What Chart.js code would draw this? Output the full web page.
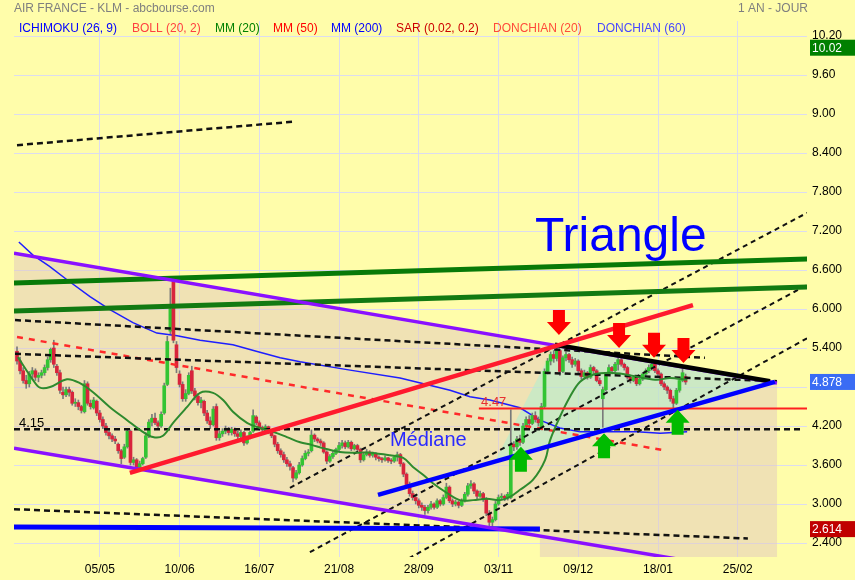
<!DOCTYPE html>
<html>
<head>
<meta charset="utf-8">
<script src="https://cdn.jsdelivr.net/npm/chart.js@4.4.1/dist/chart.umd.min.js"></script>
<style>
  html, body { margin: 0; padding: 0; background: #fffdaa; }
  #wrap { width: 855px; height: 580px; }
</style>
</head>
<body>
<div id="wrap"><canvas id="chart" width="855" height="580"></canvas></div>
<script>
// ---- daily candles : [open, high, low, close], one per session ----
const CANDLES = [
  [5.35,5.42,5.15,5.20],[5.20,5.26,5.00,5.05],[5.05,5.10,4.86,4.90],[4.90,4.98,4.78,4.85],[4.85,5.04,4.80,5.00],
  [5.00,5.10,4.92,5.05],[5.05,5.08,4.90,4.95],[4.95,5.02,4.88,4.98],[4.98,5.06,4.94,5.02],[5.02,5.14,4.98,5.10],
  [5.10,5.26,5.06,5.22],[5.22,5.40,5.18,5.38],[5.40,5.52,5.10,5.15],[5.12,5.15,4.98,5.02],[5.02,5.06,4.70,4.75],
  [4.72,4.80,4.62,4.68],[4.68,4.80,4.65,4.76],[4.76,4.80,4.66,4.72],[4.72,4.74,4.52,4.55],[4.55,4.62,4.50,4.56],
  [4.56,4.60,4.45,4.50],[4.50,4.52,4.40,4.44],[4.42,4.90,4.40,4.85],[4.85,4.88,4.52,4.55],[4.55,4.60,4.46,4.50],
  [4.48,4.64,4.46,4.60],[4.58,4.60,4.36,4.40],[4.40,4.44,4.26,4.30],[4.30,4.34,4.16,4.20],[4.20,4.24,4.06,4.10],
  [4.10,4.14,4.00,4.05],[4.05,4.08,3.96,4.00],[4.00,4.04,3.93,3.97],[3.92,3.94,3.78,3.82],[3.82,3.84,3.62,3.70],
  [3.72,3.92,3.70,3.88],[3.88,4.16,3.86,4.12],[4.12,4.14,3.60,3.64],[3.64,3.72,3.60,3.68],[3.68,3.70,3.50,3.56],
  [3.56,3.66,3.53,3.62],[3.62,3.72,3.60,3.70],[3.72,4.10,3.70,4.05],[4.05,4.30,4.02,4.26],[4.26,4.38,4.20,4.32],
  [4.32,4.40,4.22,4.25],[4.25,4.28,4.16,4.20],[4.20,4.42,4.18,4.38],[4.40,4.86,4.38,4.82],[4.84,5.58,4.82,5.50],
  [5.66,6.32,5.62,6.00],[6.42,6.46,5.48,5.52],[5.45,5.50,5.02,5.10],[5.00,5.05,4.80,4.84],[4.84,4.88,4.58,4.62],
  [4.62,4.76,4.58,4.70],[4.70,5.02,4.68,4.98],[5.05,5.12,4.70,4.74],[4.74,4.78,4.60,4.66],[4.66,4.70,4.52,4.56],
  [4.56,4.64,4.48,4.60],[4.58,4.60,4.36,4.40],[4.40,4.44,4.24,4.28],[4.28,4.34,4.16,4.22],[4.22,4.50,4.20,4.46],
  [4.50,4.54,3.98,4.02],[4.02,4.12,3.98,4.08],[4.08,4.16,4.04,4.12],[4.12,4.20,4.08,4.16],[4.16,4.18,4.06,4.10],
  [4.10,4.18,4.06,4.15],[4.15,4.17,4.04,4.08],[4.08,4.12,4.00,4.04],[4.04,4.14,4.02,4.10],[4.10,4.12,3.90,3.94],
  [3.94,4.05,3.92,4.02],[4.02,4.12,4.00,4.10],[4.12,4.45,4.10,4.36],[4.34,4.36,4.22,4.25],[4.25,4.28,4.14,4.18],
  [4.18,4.20,4.10,4.14],[4.14,4.22,4.12,4.19],[4.19,4.20,4.08,4.12],[4.12,4.14,4.02,4.05],[4.05,4.06,3.88,3.92],
  [3.92,3.95,3.78,3.82],[3.82,3.85,3.72,3.76],[3.76,3.80,3.64,3.68],[3.68,3.72,3.58,3.62],[3.62,3.66,3.52,3.58],
  [3.56,3.58,3.34,3.40],[3.40,3.52,3.38,3.48],[3.48,3.64,3.46,3.60],[3.60,3.74,3.58,3.70],[3.70,3.82,3.68,3.78],
  [3.78,3.84,3.74,3.80],[3.82,4.14,3.80,4.06],[4.06,4.08,3.96,4.00],[4.00,4.02,3.94,3.97],[3.97,4.00,3.90,3.94],
  [3.94,3.96,3.78,3.80],[3.80,3.82,3.62,3.66],[3.66,3.76,3.64,3.73],[3.73,3.82,3.70,3.78],[3.78,3.86,3.76,3.84],
  [3.84,3.95,3.82,3.90],[3.90,3.98,3.86,3.94],[3.94,3.97,3.85,3.88],[3.88,3.98,3.86,3.95],[3.95,3.97,3.82,3.85],
  [3.85,3.92,3.83,3.90],[3.90,3.92,3.80,3.84],[3.84,3.86,3.64,3.68],[3.68,3.78,3.66,3.76],[3.76,3.84,3.74,3.80],
  [3.80,3.82,3.72,3.75],[3.75,3.80,3.72,3.78],[3.78,3.79,3.68,3.72],[3.72,3.74,3.66,3.70],[3.70,3.72,3.64,3.68],
  [3.68,3.74,3.66,3.71],[3.71,3.72,3.64,3.67],[3.67,3.70,3.62,3.66],[3.66,3.74,3.64,3.72],[3.72,3.80,3.66,3.76],
  [3.76,3.78,3.58,3.62],[3.62,3.64,3.42,3.46],[3.46,3.48,3.26,3.30],[3.30,3.34,3.12,3.16],[3.16,3.20,3.06,3.10],
  [3.10,3.14,3.00,3.05],[3.05,3.08,2.94,2.98],[2.98,3.02,2.90,2.95],[2.95,2.98,2.84,2.90],[2.90,2.98,2.86,2.95],
  [2.95,3.04,2.92,3.00],[3.00,3.02,2.92,2.95],[2.95,3.08,2.93,3.05],[3.05,3.07,2.97,3.00],[3.00,3.14,2.98,3.10],
  [3.10,3.32,3.08,3.26],[3.26,3.28,3.02,3.05],[3.05,3.08,2.96,3.00],[3.00,3.06,2.97,3.03],[3.03,3.05,2.94,2.98],
  [2.98,3.08,2.96,3.05],[3.05,3.18,3.03,3.15],[3.15,3.32,3.12,3.28],[3.28,3.36,3.24,3.31],[3.31,3.33,3.16,3.20],
  [3.20,3.22,3.08,3.12],[3.12,3.20,3.10,3.16],[3.16,3.18,3.04,3.08],[3.08,3.10,2.82,2.86],[2.86,2.90,2.61,2.72],
  [2.72,2.80,2.66,2.76],[2.76,3.04,2.74,3.00],[3.00,3.14,2.98,3.10],[3.10,3.16,3.06,3.12],[3.12,3.14,3.05,3.09],
  [3.09,3.18,3.06,3.15],[3.10,4.45,3.08,3.92],[3.92,3.96,3.82,3.88],[3.88,4.04,3.84,4.00],[4.00,4.06,3.90,3.95],
  [3.95,4.24,3.93,4.20],[4.20,4.34,4.16,4.30],[4.30,4.36,4.20,4.24],[4.24,4.40,4.22,4.36],[4.36,4.42,4.26,4.30],
  [4.30,4.34,4.20,4.25],[4.18,4.55,4.14,4.50],[4.50,5.08,4.48,5.04],[5.04,5.24,5.00,5.20],[5.20,5.34,5.14,5.30],
  [5.30,5.36,5.18,5.24],[5.24,5.44,5.20,5.36],[5.36,5.38,4.98,5.04],[5.04,5.28,5.02,5.25],[5.25,5.34,5.20,5.30],
  [5.30,5.32,5.18,5.22],[5.22,5.26,5.10,5.15],[5.15,5.24,5.12,5.20],[5.20,5.22,5.02,5.05],[5.05,5.08,4.92,4.96],
  [4.96,5.06,4.94,5.02],[5.02,5.04,4.92,4.95],[4.95,5.14,4.93,5.10],[5.10,5.12,5.00,5.05],[5.05,5.07,4.88,4.90],
  [4.90,4.94,4.82,4.85],[4.62,4.80,4.18,4.76],[4.76,5.02,4.74,5.00],[5.00,5.14,4.98,5.10],[5.10,5.12,5.00,5.05],
  [5.05,5.18,5.03,5.15],[5.15,5.26,5.06,5.22],[5.22,5.24,5.12,5.15],[5.15,5.17,5.06,5.10],[5.10,5.12,4.92,4.95],
  [4.95,4.98,4.86,4.90],[4.90,4.98,4.88,4.95],[4.95,4.97,4.82,4.85],[4.85,4.95,4.83,4.92],[4.92,5.02,4.90,5.00],
  [5.00,5.08,4.98,5.05],[5.05,5.14,5.02,5.10],[5.10,5.20,5.06,5.15],[5.15,5.16,5.02,5.05],[5.05,5.08,4.96,5.00],
  [5.00,5.02,4.82,4.85],[4.85,4.88,4.76,4.80],[4.80,4.82,4.70,4.75],[4.75,4.77,4.58,4.62],[4.62,4.66,4.48,4.55],
  [4.55,4.78,4.53,4.75],[4.75,4.94,4.72,4.90],[4.90,5.12,4.88,5.02],[4.96,5.00,4.84,4.878]
];

// ---- axes ----
const X_MIN = -0.98, X_MAX = 257.58;
const X_TICKS = [27, 53, 79, 105, 131, 157, 183, 209, 235];
const X_LABELS = ["05/05", "10/06", "16/07", "21/08", "28/09", "03/11", "09/12", "18/01", "25/02"];
const Y_MIN = 2.185, Y_MAX = 10.431;
const Y_TICKS = [2.4, 3.0, 3.6, 4.2, 4.8, 5.4, 6.0, 6.6, 7.2, 7.8, 8.4, 9.0, 9.6, 10.2];
const Y_LABELS = ["2.400", "3.000", "3.600", "4.200", "4.800", "5.400", "6.000", "6.600", "7.200", "7.800", "8.400", "9.00", "9.60", "10.20"];

const MM20 = [[0.3,5.26],[5.2,4.91],[7.5,4.79],[10.8,4.80],[16.3,4.92],[20.5,4.86],[24.8,4.72],[30.3,4.49],
  [35.9,4.29],[40.1,4.14],[44.3,4.03],[47.6,4.05],[50.9,4.25],[55.4,4.49],[59.7,4.71],[63.9,4.71],[67.2,4.60],
  [70.4,4.42],[75.0,4.25],[79.2,4.17],[83.5,4.11],[88.0,4.03],[92.3,3.95],[96.0,3.91],[99.8,3.86],[105.3,3.80],
  [110.9,3.79],[115.1,3.79],[121.6,3.75],[125.9,3.71],[129.1,3.57],[132.4,3.45],[135.6,3.32],[140.2,3.17],
  [144.4,3.06],[148.7,3.06],[153.2,3.08],[157.5,3.06],[160.7,3.11],[164.0,3.22],[168.2,3.37],[172.2,3.68],
  [173.8,3.98],[177.0,4.34],[180.3,4.65],[183.6,4.88],[187.8,4.99],[193.3,5.02],[198.9,4.99],[204.1,4.94],
  [208.7,4.91],[212.9,4.94],[218.5,4.91]];
const MM200 = [[0.6,7.03],[5.2,6.83],[10.5,6.66],[16.3,6.45],[23.8,6.19],[30.3,5.99],[37.8,5.79],[45.6,5.63],
  [52.2,5.59],[59.7,5.52],[70.4,5.45],[78.0,5.35],[85.8,5.25],[92.3,5.19],[108.6,5.06],[124.9,4.94],
  [141.2,4.75],[147.7,4.65],[154.2,4.60],[164.0,4.48],[170.5,4.29],[177.0,4.17],[183.6,4.11],[191.1,4.11],
  [202.2,4.11],[209.7,4.09],[218.5,4.11]];

// ---- hand-drawn lines : [session, price] ----
const DASH_TOP = [[0,8.52],[89.7,8.88]];
const DASH_HIGH = [[-0.65,5.83],[224.3,5.25]];
const DASH_MID = [[-0.65,5.31],[247.8,4.89]];
const DASH_415 = [[-0.98,4.15],[256.3,4.15]];
const DASH_LOW = [[-0.98,2.92],[238.3,2.47]];
const DIAG_1 = [[89,3.25],[257.6,7.48]];
const DIAG_2 = [[95.5,2.26],[257.6,6.37]];
const DIAG_3 = [[122.6,2.03],[257.6,5.55]];
const RED_DASH = [[0,5.57],[211.9,3.82]];
const PURPLE_TOP = [[-0.98,6.86],[247.8,4.86]];
const PURPLE_LOW = [[-0.98,3.86],[257.6,1.82]];
const BLUE_FLOOR = [[-0.98,2.646],[170.5,2.615]];
const BLUE_SUPPORT = [[117.7,3.14],[247.1,4.88]];
const RED_RISE = [[36.8,3.48],[220.4,6.06]];
const GREEN_UP = [[-0.98,6.40],[257.6,6.77]];
const GREEN_LOW = [[-0.98,5.97],[257.6,6.34]];
const BLACK_TOP = [[175.4,5.45],[245.5,4.89]];
const RED_447 = [[150.6,4.47],[257.6,4.47]];
const TAN_ZONE = [[-0.98,6.86],[247.8,4.86],[247.8,2.0],[170.5,2.0],[170.5,2.50],[-0.98,3.86],[-0.98,6.86]];
const TRI_ZONE = [[155.9,3.66],[175.4,5.45],[247.1,4.88],[155.9,3.66]];

// ---- marks and notes ----
const DOWN_ARROWS = [[176.7,5.60],[196.3,5.40],[207.7,5.25],[217.3,5.17]];
const UP_ARROWS = [[164.3,3.88],[191.4,4.09],[215.4,4.45]];
const NOTES = [
  { text: "Triangle", at: [168.9, 6.89], size: 48, color: "#0000ff" },
  { text: "Médiane", at: [121.6, 3.89], size: 20, color: "#2a2aff" },
  { text: "4.15", at: [0.65, 4.18], size: 13, color: "#000000" },
  { text: "4.47", at: [151.3, 4.51], size: 13, color: "#e83030" }
];
const HIGH_VALUE = 10.02, LAST_VALUE = 4.878, LOW_VALUE = 2.614;

const LEGEND = [
  ["ICHIMOKU (26, 9)", 19, "#0000ff"], ["BOLL (20, 2)", 132, "#ff4040"], ["MM (20)", 215, "#008000"],
  ["MM (50)", 273, "#ff0000"], ["MM (200)", 331, "#0000ff"], ["SAR (0.02, 0.2)", 396, "#cc0000"],
  ["DONCHIAN (20)", 493, "#ff4a3a"], ["DONCHIAN (60)", 597, "#4848ff"]
];

const FONT = 'Arial, "Liberation Sans", sans-serif';
const GRID = "#dcdcef";
const UP_COL = "#33c433", DOWN_COL = "#d8243c";

function pts(arr) { return arr.map(([x, y]) => ({ x, y })); }

function line(arr, color, width, dash, order) {
  return {
    type: "line", data: pts(arr), borderColor: color, borderWidth: width,
    borderDash: dash || [], pointRadius: 0, fill: false, tension: 0, order: order
  };
}

function zone(arr, color, order) {
  return {
    type: "line", data: pts(arr), borderWidth: 0, borderColor: "rgba(0,0,0,0)",
    backgroundColor: color, fill: "shape", pointRadius: 0, tension: 0, order: order
  };
}

function drawArrow(ctx, cx, tip, dir, color) {
  const hy = tip - dir * 13, ty = tip - dir * 25;
  ctx.beginPath();
  ctx.moveTo(cx, tip);
  ctx.lineTo(cx - 12, hy);
  ctx.lineTo(cx - 6, hy);
  ctx.lineTo(cx - 6, ty);
  ctx.lineTo(cx + 6, ty);
  ctx.lineTo(cx + 6, hy);
  ctx.lineTo(cx + 12, hy);
  ctx.closePath();
  ctx.fillStyle = color;
  ctx.fill();
}

function valueBox(ctx, y, v, text, bg) {
  const py = y.getPixelForValue(v);
  ctx.fillStyle = bg;
  ctx.fillRect(810, py - 8, 45, 16);
  ctx.fillStyle = "#ffffff";
  ctx.font = "12px " + FONT;
  ctx.textAlign = "left";
  ctx.textBaseline = "middle";
  ctx.fillText(text, 812, py + 1);
}

const overlay = {
  id: "overlay",
  afterDatasetsDraw(chart) {
    const { ctx, scales: { x, y } } = chart;
    ctx.save();
    DOWN_ARROWS.forEach(([i, p]) => drawArrow(ctx, x.getPixelForValue(i), y.getPixelForValue(p), 1, "#ff0000"));
    UP_ARROWS.forEach(([i, p]) => drawArrow(ctx, x.getPixelForValue(i), y.getPixelForValue(p), -1, "#00bb00"));
    NOTES.forEach(n => {
      ctx.font = n.size + "px " + FONT;
      ctx.fillStyle = n.color;
      ctx.textAlign = "left";
      ctx.textBaseline = "alphabetic";
      ctx.fillText(n.text, x.getPixelForValue(n.at[0]), y.getPixelForValue(n.at[1]));
    });
    ctx.restore();
  },
  afterDraw(chart) {
    const { ctx, scales: { y } } = chart;
    ctx.save();
    ctx.textBaseline = "middle";
    ctx.textAlign = "left";
    ctx.font = "12px " + FONT;
    ctx.fillStyle = "#7f7f7f";
    ctx.fillText("AIR FRANCE - KLM - abcbourse.com", 14, 9);
    ctx.fillText("1 AN - JOUR", 738, 9);
    LEGEND.forEach(([t, lx, c]) => { ctx.fillStyle = c; ctx.fillText(t, lx, 29); });
    valueBox(ctx, y, HIGH_VALUE, "10.02", "#008000");
    valueBox(ctx, y, LAST_VALUE, "4.878", "#3a6cf4");
    valueBox(ctx, y, LOW_VALUE, "2.614", "#c00000");
    ctx.restore();
  }
};

const datasets = [
  zone(TAN_ZONE, "rgba(225,199,190,0.5)", 100),
  zone(TRI_ZONE, "rgba(180,236,207,0.6)", 99),
  line(MM200, "#1e1eff", 1.5, null, 50),
  {
    type: "bar", data: CANDLES.map((c, i) => ({ x: i, y: [c[2], c[1]] })),
    backgroundColor: "#7a7a7a", barThickness: 1, grouped: false, order: 45
  },
  {
    type: "bar", data: CANDLES.map((c, i) => ({ x: i, y: [c[0], c[3]] })),
    backgroundColor: CANDLES.map(c => c[3] >= c[0] ? UP_COL : DOWN_COL),
    barThickness: 3, minBarLength: 1, grouped: false, order: 44
  },
  line(DASH_TOP, "#111111", 2.5, [6, 4], 30),
  line(DASH_HIGH, "#111111", 2.5, [6, 4], 30),
  line(DASH_MID, "#111111", 2.5, [6, 4], 30),
  line(DASH_415, "#111111", 2.5, [6, 4], 30),
  line(DASH_LOW, "#111111", 2.5, [6, 4], 30),
  line(DIAG_1, "#111111", 2, [5, 4], 30),
  line(DIAG_2, "#111111", 2, [5, 4], 30),
  line(DIAG_3, "#111111", 2, [5, 4], 30),
  line(RED_DASH, "#ff2a2a", 2.5, [6, 6], 30),
  line(PURPLE_TOP, "#8a10ff", 3.5, null, 25),
  line(PURPLE_LOW, "#8a10ff", 3.5, null, 25),
  line(GREEN_UP, "#087a08", 5, null, 25),
  line(GREEN_LOW, "#127a12", 5, null, 25),
  line(BLUE_FLOOR, "#0000ff", 5, null, 25),
  { ...line(MM20, "#2e8a2e", 2, null, 22), tension: 0.35 },
  line(RED_447, "#ff2020", 2, null, 20),
  line(RED_RISE, "#ff1a2e", 4.5, null, 15),
  line(BLUE_SUPPORT, "#0000ff", 4.5, null, 15),
  line(BLACK_TOP, "#000000", 4.5, null, 15)
];

new Chart(document.getElementById("chart"), {
  type: "line",
  data: { datasets },
  options: {
    responsive: false,
    devicePixelRatio: 1,
    animation: false,
    events: [],
    layout: { padding: { left: 14, top: 21, right: 0, bottom: 0 } },
    plugins: { legend: { display: false }, tooltip: { enabled: false } },
    scales: {
      x: {
        type: "linear", min: X_MIN, max: X_MAX, offset: false,
        afterBuildTicks: s => { s.ticks = X_TICKS.map(v => ({ value: v })); },
        afterFit: s => { s.height = 23; },
        grid: { color: GRID, drawTicks: false, offset: false },
        border: { display: false },
        ticks: {
          callback: (v, i) => X_LABELS[i], color: "#000", padding: 5,
          maxRotation: 0, autoSkip: false, font: { family: FONT, size: 12 }
        }
      },
      y: {
        type: "linear", position: "right", min: Y_MIN, max: Y_MAX, beginAtZero: false,
        afterBuildTicks: s => { s.ticks = Y_TICKS.map(v => ({ value: v })); },
        afterFit: s => { s.width = 48; },
        grid: { color: GRID, drawTicks: false },
        border: { display: false },
        ticks: {
          callback: (v, i) => Y_LABELS[i], color: "#000", padding: 5,
          font: { family: FONT, size: 12 }
        }
      }
    }
  },
  plugins: [overlay]
});
</script>
</body>
</html>
